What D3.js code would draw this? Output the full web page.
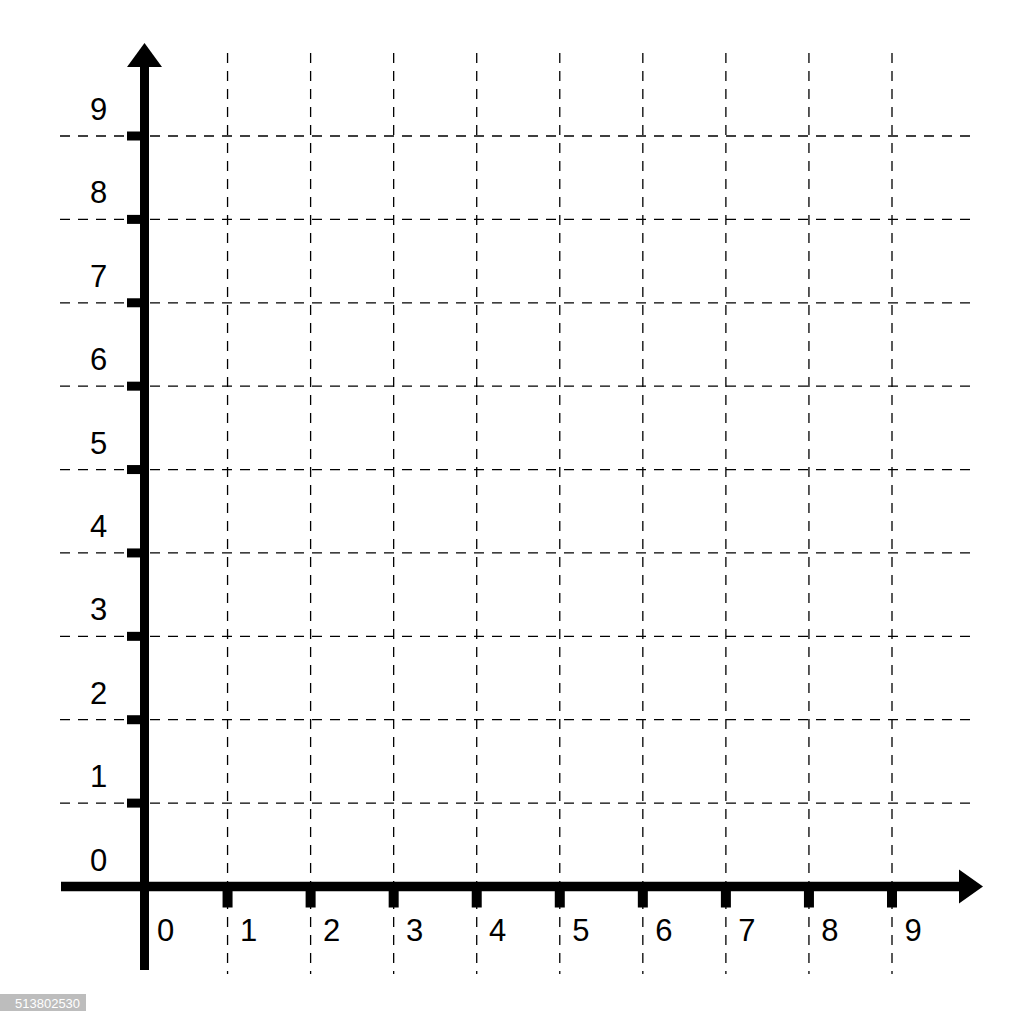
<!DOCTYPE html>
<html>
<head>
<meta charset="utf-8">
<script src="https://cdn.jsdelivr.net/npm/d3@7"></script>
<style>
  html, body { margin: 0; padding: 0; background: #fff; }
  svg { display: block; }
</style>
</head>
<body>
<script>
// ---- data ----
const xTickValues = [0, 1, 2, 3, 4, 5, 6, 7, 8, 9];
const yTickValues = [0, 1, 2, 3, 4, 5, 6, 7, 8, 9];
const xTickLabels = ["0", "1", "2", "3", "4", "5", "6", "7", "8", "9"];
const yTickLabels = ["0", "1", "2", "3", "4", "5", "6", "7", "8", "9"];
const gridValues = [1, 2, 3, 4, 5, 6, 7, 8, 9];
const imageId = "513802530";

// ---- layout ----
const W = 1024, H = 1024;
const x = d3.scaleLinear().domain([0, 9]).range([144.5, 892]);
const y = d3.scaleLinear().domain([0, 9]).range([886.5, 136]);

const svg = d3.select("body").append("svg")
  .attr("width", W).attr("height", H)
  .style("font-family", "'Liberation Sans', Arial, sans-serif");

svg.append("rect").attr("width", W).attr("height", H).attr("fill", "#fff");

// grid
const grid = svg.append("g").attr("stroke", "#000").attr("stroke-width", 1.3)
  .attr("stroke-dasharray", "10,8").attr("fill", "none");
grid.selectAll("line.h").data(gridValues).join("line").attr("class", "h")
  .attr("x1", 60).attr("x2", 977)
  .attr("y1", d => y(d)).attr("y2", d => y(d));
grid.selectAll("line.v").data(gridValues).join("line").attr("class", "v")
  .attr("x1", d => x(d)).attr("x2", d => x(d))
  .attr("y1", 53).attr("y2", 974);

// axes
const x0 = x(0), y0 = y(0);
svg.append("line").attr("x1", 61).attr("x2", 962).attr("y1", y0).attr("y2", y0)
  .attr("stroke", "#000").attr("stroke-width", 9.5);
svg.append("line").attr("x1", x0).attr("x2", x0).attr("y1", 970).attr("y2", 64)
  .attr("stroke", "#000").attr("stroke-width", 9);

// arrowheads
svg.append("path").attr("d", `M${x0},43 L${x0 + 17.5},67 L${x0 - 17.5},67 Z`).attr("fill", "#000");
svg.append("path").attr("d", `M983,${y0} L959,${y0 - 17} L959,${y0 + 17} Z`).attr("fill", "#000");

// tick marks
svg.selectAll("rect.yt").data(gridValues).join("rect").attr("class", "yt")
  .attr("x", 127).attr("width", 14).attr("y", d => y(d) - 4.5).attr("height", 9).attr("fill", "#000");
svg.selectAll("rect.xt").data(gridValues).join("rect").attr("class", "xt")
  .attr("x", d => x(d) - 5).attr("width", 10).attr("y", y0).attr("height", 21).attr("fill", "#000");

// labels
svg.selectAll("text.xl").data(xTickValues).join("text").attr("class", "xl")
  .attr("x", d => x(d) + 21).attr("y", 941)
  .attr("text-anchor", "middle").attr("font-size", 31).attr("fill", "#000")
  .text((d, i) => xTickLabels[i]);
svg.selectAll("text.yl").data(yTickValues).join("text").attr("class", "yl")
  .attr("x", 98.5).attr("y", d => y(d) - 16)
  .attr("text-anchor", "middle").attr("font-size", 31).attr("fill", "#000")
  .text((d, i) => yTickLabels[i]);

// id tag
svg.append("rect").attr("x", 0).attr("y", 994).attr("width", 86).attr("height", 17).attr("fill", "#bdbdbd");
svg.append("text").attr("x", 15).attr("y", 1008).attr("font-size", 13).attr("fill", "#fff").text(imageId);
</script>
</body>
</html>
